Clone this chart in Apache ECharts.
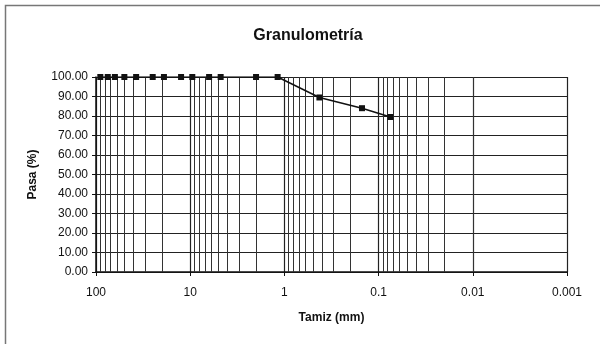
<!DOCTYPE html>
<html>
<head>
<meta charset="utf-8">
<script src="https://cdn.jsdelivr.net/npm/echarts@6/dist/echarts.min.js"></script>
<style>
  html, body { margin: 0; padding: 0; background: #fff; }
  #chart { width: 600px; height: 344px; }
</style>
</head>
<body>
<div id="chart"></div>
<script>
// tamiz (mm) y % que pasa
var tamiz = [90, 75, 63, 50, 37.5, 25, 19, 12.5, 9.5, 6.3, 4.75, 2, 1.18, 0.425, 0.15, 0.075];
var pasa = [100, 100, 100, 100, 100, 100, 100, 100, 100, 100, 100, 100, 100, 89.5, 84, 79.5];

var decadas = [0.001, 0.01, 0.1, 1, 10];
var multiplos = [2, 3, 4, 5, 6, 7, 8, 9];
var xLabels = ['0.001', '0.01', '0.1', '1', '10', '100'];

// lineas verticales secundarias del papel logaritmico
var gridMenor = [];
decadas.forEach(function (d) {
    multiplos.forEach(function (m) {
        gridMenor.push({ xAxis: +(m * d).toPrecision(3) });
    });
});

var chart = echarts.init(document.getElementById('chart'));

var option = {
    animation: false,
    textStyle: { fontFamily: 'Liberation Sans, Arial, sans-serif', color: '#000' },
    title: {
        text: 'Granulometría',
        left: 303,
        top: 23,
        textAlign: 'center',
        textStyle: { fontSize: 16, fontWeight: 'bold', color: '#111' }
    },
    graphic: [{
        type: 'rect',
        shape: { x: 5.5, y: 5.5, width: 620, height: 360 },
        style: { fill: 'none', stroke: '#777', lineWidth: 1.5 },
        silent: true
    }],
    grid: { left: 96, right: 33, top: 77, bottom: 72 },
    xAxis: {
        type: 'log',
        logBase: 10,
        inverse: true,
        min: 0.001,
        max: 100,
        name: 'Tamiz (mm)',
        nameLocation: 'middle',
        nameGap: 40,
        nameTextStyle: { fontSize: 12, fontWeight: 'bold', color: '#111' },
        axisLine: { show: true, onZero: false, lineStyle: { color: '#111', width: 1.5 } },
        axisTick: { show: true, length: 4, lineStyle: { color: '#111' } },
        axisLabel: {
            margin: 15,
            fontSize: 12,
            color: '#111',
            formatter: function (v) {
                var e = Math.round(Math.log10(v));
                return xLabels[e + 3];
            }
        },
        splitLine: { show: true, lineStyle: { color: '#222', width: 1.2 } }
    },
    yAxis: {
        type: 'value',
        min: 0,
        max: 100,
        interval: 10,
        name: 'Pasa (%)',
        nameLocation: 'middle',
        nameGap: 57,
        nameTextStyle: { fontSize: 12, fontWeight: 'bold', color: '#111' },
        axisLine: { show: true, lineStyle: { color: '#111', width: 1.5 } },
        axisTick: { show: true, length: 4, lineStyle: { color: '#111' } },
        axisLabel: {
            margin: 8,
            fontSize: 12,
            color: '#111',
            formatter: function (v) { return v.toFixed(2); }
        },
        splitLine: { show: true, lineStyle: { color: '#222', width: 1.2 } }
    },
    series: [{
        type: 'line',
        data: tamiz.map(function (t, i) { return [t, pasa[i]]; }),
        symbol: 'rect',
        symbolSize: 6,
        lineStyle: { color: '#111', width: 1.5 },
        itemStyle: { color: '#111' },
        z: 5,
        markLine: {
            silent: true,
            symbol: 'none',
            label: { show: false },
            lineStyle: { color: '#333', width: 1, type: 'solid' },
            data: gridMenor
        }
    }]
};

chart.setOption(option);
</script>
</body>
</html>
